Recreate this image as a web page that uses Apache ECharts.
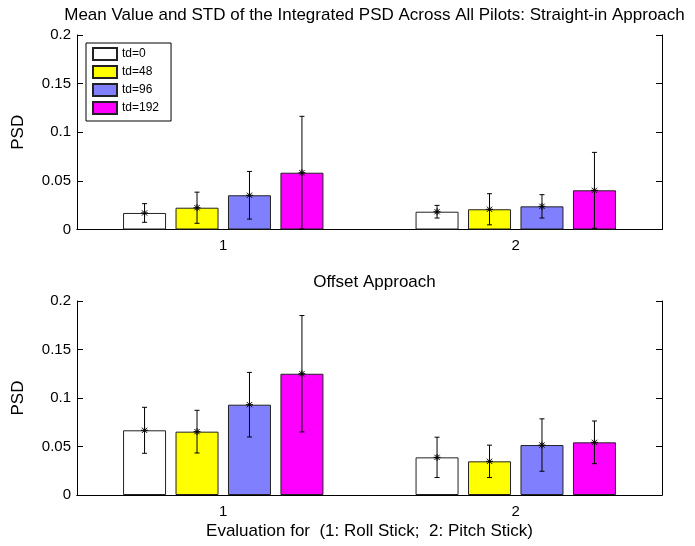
<!DOCTYPE html>
<html>
<head>
<meta charset="utf-8">
<script src="https://cdn.jsdelivr.net/npm/echarts@6/dist/echarts.min.js"></script>
<style>
  html, body { margin: 0; padding: 0; background: #fff; }
  #chart { width: 695px; height: 546px; }
</style>
</head>
<body>
<div id="chart"></div>
<script>
// categories and legend names
const categories = ['1', '2']
const delays = ['td=0', 'td=48', 'td=96', 'td=192']
const colors = ['#ffffff', '#ffff00', '#8080ff', '#ff00ff']

// straight-in approach: mean and std per delay, [roll, pitch]
const straightMean = [
  [0.017, 0.0183],
  [0.0224, 0.0208],
  [0.0352, 0.0238],
  [0.0584, 0.0403]
]
const straightStd = [
  [0.0096, 0.0065],
  [0.016, 0.016],
  [0.0245, 0.012],
  [0.058, 0.039]
]

// offset approach
const offsetMean = [
  [0.0667, 0.0388],
  [0.0653, 0.0347],
  [0.0931, 0.0515],
  [0.125, 0.0543]
]
const offsetStd = [
  [0.0237, 0.0208],
  [0.022, 0.0167],
  [0.0333, 0.027],
  [0.06, 0.022]
]

const yTicks = { min: 0, max: 0.2, interval: 0.05 }

const BAR_W = 43
const BAR_GAP = '22%'
const FONT = 'Liberation Sans, Arial, sans-serif'
const BIG = 17

const chart = echarts.init(document.getElementById('chart'))

const makeErrorSeries = (gridIdx, i, means, stds) => ({
  type: 'custom',
  name: delays[i] + ' err',
  xAxisIndex: gridIdx * 2,
  yAxisIndex: gridIdx * 2,
  z: 10,
  silent: true,
  data: categories.map((c, k) => [k, means[i][k], stds[i][k]]),
  renderItem: (params, api) => {
    const layout = api.barLayout({ barWidth: BAR_W, barGap: BAR_GAP, count: 4 })
    const base = api.coord([api.value(0), api.value(1)])
    const x = base[0] + layout[i].offsetCenter
    const y = base[1]
    const yHi = api.coord([api.value(0), api.value(1) + api.value(2)])[1]
    const yLo = api.coord([api.value(0), Math.max(0, api.value(1) - api.value(2))])[1]
    const cap = 2.5
    const s = 3.5
    const st = { stroke: '#000', lineWidth: 1 }
    const line = (x1, y1, x2, y2) => ({ type: 'line', shape: { x1, y1, x2, y2 }, style: st })
    return {
      type: 'group',
      children: [
        line(x, yHi, x, yLo),
        line(x - cap, yHi, x + cap, yHi),
        line(x - cap, yLo, x + cap, yLo),
        line(x - s, y, x + s, y),
        line(x, y - s, x, y + s),
        line(x - s * 0.75, y - s * 0.75, x + s * 0.75, y + s * 0.75),
        line(x - s * 0.75, y + s * 0.75, x + s * 0.75, y - s * 0.75)
      ]
    }
  }
})

const makeBarSeries = (gridIdx, i, means) => ({
  type: 'bar',
  name: delays[i],
  xAxisIndex: gridIdx * 2,
  yAxisIndex: gridIdx * 2,
  barWidth: BAR_W,
  barGap: BAR_GAP,
  data: means[i],
  itemStyle: { color: colors[i], borderColor: '#222', borderWidth: 1 },
  emphasis: { disabled: true }
})

const xAxes = []
const yAxes = []
const axisStyle = { lineStyle: { color: '#000' } }
;[0, 1].forEach(g => {
  xAxes.push({
    type: 'category', gridIndex: g, data: categories, position: 'bottom',
    axisLine: { show: true, lineStyle: { color: '#000' } },
    axisTick: { inside: true, alignWithLabel: true, length: 6, ...axisStyle },
    axisLabel: { color: '#000', fontSize: 15, fontFamily: FONT, margin: 9 },
    name: g === 1 ? 'Evaluation for  (1: Roll Stick;  2: Pitch Stick)' : '',
    nameLocation: 'middle', nameGap: 28,
    nameTextStyle: { color: '#000', fontSize: BIG, fontFamily: FONT }
  })
  xAxes.push({
    type: 'category', gridIndex: g, data: categories, position: 'top',
    axisLine: { show: true, lineStyle: { color: '#000' } },
    axisTick: { inside: true, alignWithLabel: true, length: 6, ...axisStyle },
    axisLabel: { show: false }
  })
  yAxes.push({
    type: 'value', gridIndex: g, position: 'left', ...yTicks,
    axisLine: { show: true, lineStyle: { color: '#000' } },
    axisTick: { show: true, inside: true, length: 6, ...axisStyle },
    axisLabel: { color: '#000', fontSize: 15, fontFamily: FONT, margin: 6 },
    splitLine: { show: false },
    name: 'PSD', nameLocation: 'middle', nameGap: 50, nameRotate: 90,
    nameTextStyle: { color: '#000', fontSize: BIG, fontFamily: FONT }
  })
  yAxes.push({
    type: 'value', gridIndex: g, position: 'right', ...yTicks,
    axisLine: { show: true, lineStyle: { color: '#000' } },
    axisTick: { show: true, inside: true, length: 6, ...axisStyle },
    axisLabel: { show: false },
    splitLine: { show: false }
  })
})

const series = []
delays.forEach((d, i) => series.push(makeBarSeries(0, i, straightMean)))
delays.forEach((d, i) => series.push(makeBarSeries(1, i, offsetMean)))
delays.forEach((d, i) => series.push(makeErrorSeries(0, i, straightMean, straightStd)))
delays.forEach((d, i) => series.push(makeErrorSeries(1, i, offsetMean, offsetStd)))

const option = {
  animation: false,
  backgroundColor: '#fff',
  title: [
    {
      text: 'Mean Value and STD of the Integrated PSD Across All Pilots: Straight-in Approach',
      left: 369.5, textAlign: 'center', top: 2,
      textStyle: { fontSize: BIG, fontWeight: 'normal', color: '#000', fontFamily: FONT }
    },
    {
      text: 'Offset Approach',
      left: 369.5, textAlign: 'center', top: 269,
      textStyle: { fontSize: BIG, fontWeight: 'normal', color: '#000', fontFamily: FONT }
    }
  ],
  legend: {
    data: delays,
    orient: 'vertical',
    left: 86, top: 43,
    icon: 'rect',
    itemWidth: 24, itemHeight: 12, itemGap: 4,
    padding: [4, 12, 6, 6],
    borderColor: '#000', borderWidth: 1,
    backgroundColor: '#fff',
    textStyle: { fontSize: 12, lineHeight: 12, color: '#000', fontFamily: FONT },
    selectedMode: false
  },
  grid: [
    { left: 77, top: 35, width: 585, height: 194.5 },
    { left: 77, top: 301, width: 585, height: 194 }
  ],
  xAxis: xAxes,
  yAxis: yAxes,
  series
}

chart.setOption(option)
</script>
</body>
</html>
